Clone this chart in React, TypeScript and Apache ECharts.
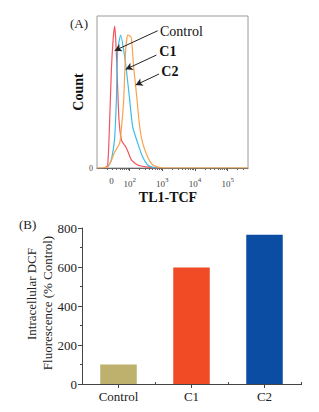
import React, { useEffect, useRef } from "react";
import * as echarts from "echarts";

// ---------- Panel A: flow cytometry histograms (x in decade units of TL1-TCF) ----------
const controlHist: [number, number][] = [
  [1.235, 0], [1.327, 2], [1.388, 31.6], [1.44, 64.5], [1.495, 85], [1.541, 93.4],
  [1.572, 85], [1.612, 64.5], [1.673, 31.6], [1.746, 18.4], [1.817, 15.8], [1.878, 14],
  [1.948, 10.7], [2.052, 5.3], [2.245, 2.0], [2.459, 0.9], [2.703, 0.3], [2.917, 0],
];
const c1Hist: [number, number][] = [
  [1.327, 0.5], [1.419, 4], [1.48, 9.9], [1.541, 20], [1.593, 44.7], [1.633, 77.6],
  [1.725, 87.5], [1.817, 77.6], [1.899, 64.5], [2.0, 44.7], [2.092, 27.0], [2.245, 16.4],
  [2.398, 7.2], [2.55, 2.0], [2.703, 0.5], [2.856, 0],
];
const c2Hist: [number, number][] = [
  [1.0, 0], [1.297, 0.5], [1.419, 4], [1.541, 10.5], [1.694, 16.4], [1.755, 28], [1.817, 44.7],
  [1.878, 77.6], [1.939, 87.5], [2.0, 87], [2.052, 85.5], [2.122, 66.4], [2.205, 49.3],
  [2.306, 27.0], [2.398, 16.4], [2.55, 7.2], [2.703, 2.0], [2.856, 0.7], [3.009, 0], [5.62, 0],
];
const histNames = ["Control", "C1", "C2"];
const xTickLabels = [1.44, 2, 3, 4, 5]; // "0", 10^2 ... 10^5
const xMajorTicks = [2, 3, 4, 5];
const xMinorTicks: number[] = [];
for (let k = 1; k <= 5; k++) {
  for (let m = 2; m <= 9; m++) {
    const v = Math.log10(m * Math.pow(10, k));
    if (v >= 1.2 && v <= 5.6) xMinorTicks.push(+v.toFixed(3));
  }
}
// arrows [start, end] in data coords
const arrowControl: [number, number][] = [[2.856, 90.3], [1.541, 77.2]];
const arrowC1: [number, number][] = [[2.817, 74.3], [1.878, 64.9]];
const arrowC2: [number, number][] = [[2.896, 61.8], [2.183, 54.6]];

// ---------- Panel B: bar chart ----------
const barCategories = ["Control", "C1", "C2"];
const barValues = [100, 598, 765];
const barColors = ["#BDB16D", "#F04B24", "#0B4DA2"];

const serif = "Liberation Serif";

export default function App() {
  const ref = useRef<HTMLDivElement>(null);
  useEffect(() => {
    if (!ref.current) return;
    const chart = echarts.init(ref.current, undefined, { renderer: "svg" });
    const arrow = (pts: [number, number][]) => [
      { coord: pts[0], symbol: "none" },
      { coord: pts[1], symbol: "arrow" },
    ];
    chart.setOption({
      animation: false,
      backgroundColor: "#ffffff",
      textStyle: { fontFamily: serif },
      grid: [
        { left: 97, top: 16, width: 151, height: 152, show: true, borderColor: "#9a9a9a", borderWidth: 1 },
        { left: 82, top: 228, width: 219, height: 156 },
      ],
      xAxis: [
        {
          gridIndex: 0,
          type: "value",
          position: "bottom",
          min: 1.0,
          max: 5.62,
          axisLine: { show: true, lineStyle: { color: "#666", width: 1 } },
          axisTick: { show: true, customValues: xMajorTicks, length: 3, lineStyle: { color: "#555" } },
          axisLabel: {
            customValues: xTickLabels,
            margin: 8,
            formatter: (v: number) => (v < 1.9 ? "{b|0}" : `{b|10}{s|${Math.round(v)}}`),
            rich: {
              b: { fontSize: 9, fontFamily: serif, color: "#444" },
              s: { fontSize: 7, fontFamily: serif, color: "#444", padding: [0, 0, 8, 0] },
            },
          },
          splitLine: { show: false },
        },
        {
          // minor ticks: second axis lands on top, shifted down onto the baseline
          gridIndex: 0,
          type: "value",
          position: "top",
          offset: -152,
          min: 1.0,
          max: 5.62,
          axisLine: { show: false },
          axisTick: { show: true, inside: true, customValues: xMinorTicks, length: 2, lineStyle: { color: "#666" } },
          axisLabel: { show: false },
          splitLine: { show: false },
        },
        {
          gridIndex: 1,
          type: "category",
          position: "bottom",
          data: barCategories,
          axisLine: { show: true, lineStyle: { color: "#444" } },
          axisTick: { show: true, alignWithLabel: true, length: 4, lineStyle: { color: "#444" } },
          axisLabel: { fontSize: 13, fontFamily: serif, color: "#222", margin: 6 },
        },
        {
          gridIndex: 1,
          type: "category",
          position: "top",
          offset: -157,
          data: barCategories,
          axisLine: { show: false },
          axisTick: { show: true, alignWithLabel: false, length: 3, lineStyle: { color: "#444" } },
          axisLabel: { show: false },
        },
      ],
      yAxis: [
        {
          gridIndex: 0,
          type: "value",
          min: 0,
          max: 100,
          axisLine: { show: false },
          axisTick: { show: false },
          axisLabel: { customValues: [0], fontSize: 8, fontFamily: serif, color: "#444", margin: 4 },
          splitLine: { show: false },
          name: "Count",
          nameLocation: "middle",
          nameGap: 6,
          nameTextStyle: { fontSize: 14, fontWeight: "bold", fontFamily: serif, color: "#111" },
        },
        {
          gridIndex: 1,
          type: "value",
          min: 0,
          max: 800,
          interval: 200,
          axisLine: { show: true, lineStyle: { color: "#444" } },
          axisTick: { show: true, length: 4, lineStyle: { color: "#444" } },
          minorTick: { show: true, splitNumber: 2, length: 2, lineStyle: { color: "#444" } },
          axisLabel: { fontSize: 13, fontFamily: serif, color: "#222", margin: 5 },
          splitLine: { show: false },
        },
      ],
      series: [
        {
          name: histNames[0],
          type: "line",
          xAxisIndex: 0,
          yAxisIndex: 0,
          data: controlHist,
          showSymbol: false,
          smooth: 0.2,
          lineStyle: { color: "#F2555E", width: 1.2 },
          markLine: {
            silent: true,
            symbolSize: [6, 7],
            label: { show: false },
            lineStyle: { color: "#222", width: 1, type: "solid" },
            data: [arrow(arrowControl), arrow(arrowC1), arrow(arrowC2)],
          },
        },
        {
          name: histNames[1],
          type: "line",
          xAxisIndex: 0,
          yAxisIndex: 0,
          data: c1Hist,
          showSymbol: false,
          smooth: 0.2,
          lineStyle: { color: "#3DBCE8", width: 1.2 },
        },
        {
          name: histNames[2],
          type: "line",
          xAxisIndex: 0,
          yAxisIndex: 0,
          data: c2Hist,
          showSymbol: false,
          smooth: 0.2,
          lineStyle: { color: "#F8A34A", width: 1.2 },
        },
        {
          type: "bar",
          xAxisIndex: 2,
          yAxisIndex: 1,
          barWidth: "50%",
          data: barValues.map((v, i) => ({ value: v, itemStyle: { color: barColors[i] } })),
        },
      ],
      graphic: [
        { type: "text", left: 70, top: 17, style: { text: "(A)", fontSize: 13, fontFamily: serif, fill: "#222" } },
        { type: "text", left: 19, top: 218, style: { text: "(B)", fontSize: 13, fontFamily: serif, fill: "#222" } },
        { type: "text", x: 160, y: 31.5, style: { text: histNames[0], fontSize: 14, fontFamily: serif, fill: "#111", verticalAlign: "middle" } },
        { type: "text", x: 159.3, y: 51.5, style: { text: histNames[1], fontSize: 14, fontWeight: "bold", fontFamily: serif, fill: "#111", verticalAlign: "middle" } },
        { type: "text", x: 161.3, y: 71, style: { text: histNames[2], fontSize: 14, fontWeight: "bold", fontFamily: serif, fill: "#111", verticalAlign: "middle" } },
        { type: "text", x: 168, y: 197, style: { text: "TL1-TCF", fontSize: 14, fontWeight: "bold", fontFamily: serif, fill: "#111", align: "center", verticalAlign: "middle" } },
        { type: "text", x: 31, y: 294, rotation: Math.PI / 2, style: { text: "Intracellular DCF", fontSize: 13, fontFamily: serif, fill: "#222", align: "center", verticalAlign: "middle" } },
        { type: "text", x: 47.5, y: 303, rotation: Math.PI / 2, style: { text: "Fluorescence (% Control)", fontSize: 13, fontFamily: serif, fill: "#222", align: "center", verticalAlign: "middle" } },
      ],
    });
    return () => chart.dispose();
  }, []);
  return <div ref={ref} style={{ position: "fixed", left: 0, top: 0, width: 319, height: 412 }} />;
}
